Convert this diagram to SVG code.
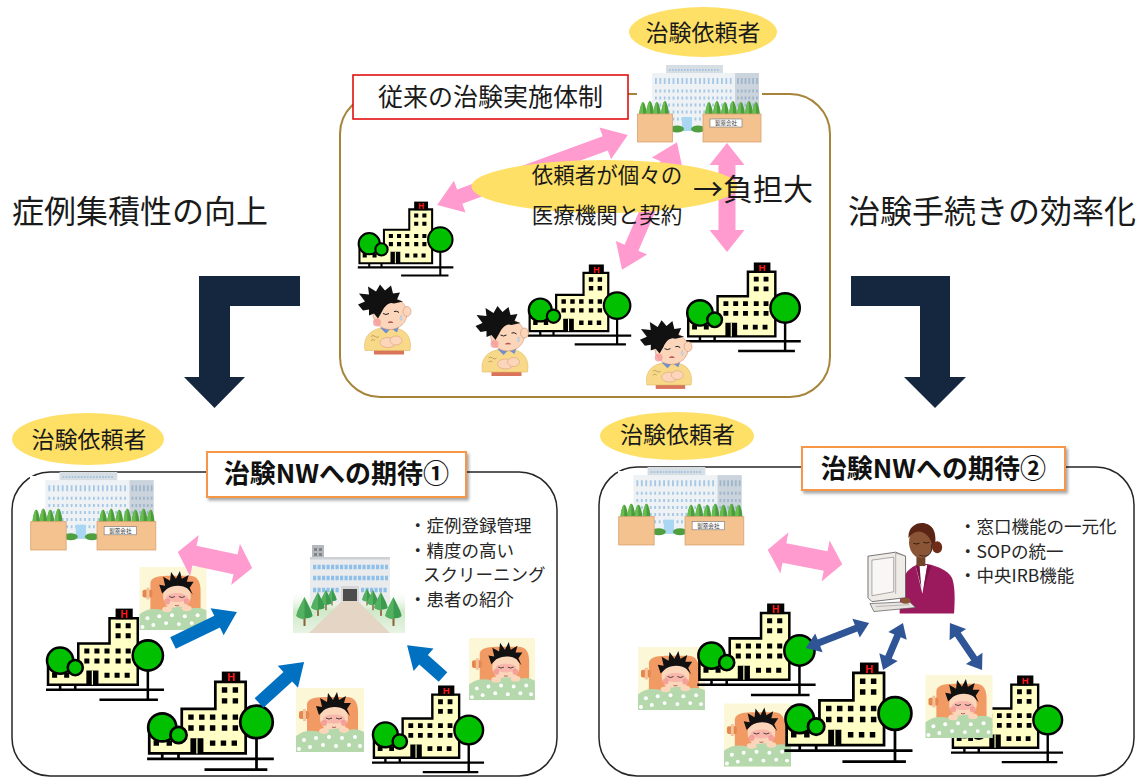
<svg xmlns="http://www.w3.org/2000/svg" xmlns:xlink="http://www.w3.org/1999/xlink" width="1137" height="778" viewBox="0 0 1137 778">
  <style>
    .jp { font-family: "Noto Sans CJK JP", "Noto Sans", sans-serif; fill: #1a1a1a; }
    .big { font-size: 32px; }
    .tag { font-size: 23px; }
    .note { font-size: 21.5px; }
    .bullet { font-size: 17.5px; fill: #262626; }
    .lbl { font-size: 26px; font-weight: 700; fill: #111; }
    .tagfill { fill: #ffe066; }
    .pink { fill: #ff9bcf; }
    .blue { fill: #0070c0; }
    .navy { fill: #2f5597; }
    .bend { fill: #14273f; }
    .panel { fill: none; stroke: #262626; stroke-width: 1.5; }
    .hmark { font-family: "Liberation Sans", sans-serif; font-weight: 700; font-size: 10px; fill: #ff1a1a; }
    .skin { fill: #fcd6bb; }
  </style>
  <defs>
    <filter id="shadow" x="-10%" y="-20%" width="125%" height="150%">
      <feDropShadow dx="2" dy="2.5" stdDeviation="1.6" flood-color="#000" flood-opacity="0.35"/>
    </filter>
    <linearGradient id="lawn" x1="0" y1="0" x2="0" y2="1">
      <stop offset="0" stop-color="#ffffff" stop-opacity="0"/>
      <stop offset="0.5" stop-color="#cfe9c8"/>
      <stop offset="1" stop-color="#e8f4e4"/>
    </linearGradient>

    <!-- small conifer used by the campus picture -->
    <symbol id="pine" viewBox="0 0 20 34">
      <rect x="8.8" y="23" width="2.4" height="11" fill="#8d6239"/>
      <path d="M10,0 C12,5 18,14 19.5,22 C19,26 1,26 0.5,22 C2,14 8,5 10,0 Z" fill="#3c9a4e"/>
      <path d="M10,0 C8,5 2,14 0.5,22 C3,25 7,26 10,26 Z" fill="#55b162"/>
    </symbol>

    <!-- rounded shrub on the planters -->
    <symbol id="bush" viewBox="0 0 9 15">
      <path d="M0,15 C0.5,7 3,0 4.5,0 C6,0 8.5,7 9,15 Z" fill="#4a9c3c"/>
      <path d="M4.5,0 C3,0 0.5,7 0,15 L4.5,15 Z" fill="#69bd4e"/>
    </symbol>

    <!-- hospital with trees -->
    <symbol id="hosp" viewBox="0 0 120 95">
      <path d="M1,81 H118 M54,91 H112 M15,62 V81 M30,64 V81 M102,60 V91" fill="none" stroke="#000" stroke-width="2.5"/>
      <path d="M3,76 V58 H33 V35 H64 V10 H92 V76 Z" fill="#ffffc6" stroke="#000" stroke-width="2.5"/>
      <rect x="70" y="0.5" width="17" height="10.5" fill="#000"/>
      <text x="78.5" y="9.6" class="hmark" text-anchor="middle">H</text>
      <path fill="#000" d="M70,15h5v5h-5z M80,15h5v5h-5z M70,25h5v5h-5z M80,25h5v5h-5z
        M39,40h5v5h-5z M49,40h5v5h-5z M59,40h5v5h-5z M70,40h5v5h-5z M80,40h5v5h-5z
        M39,50h5v5h-5z M49,50h5v5h-5z M59,50h5v5h-5z M70,50h5v5h-5z M80,50h5v5h-5z
        M7,64h5v5h-5z M19,64h5v5h-5z M59,64h5v5h-5z M69,64h5v5h-5z M79,64h5v5h-5z
        M41,62h12v14h-12z"/>
      <line x1="47" y1="62" x2="47" y2="76" stroke="#ffffc6" stroke-width="1.2"/>
      <g fill="#00c000" stroke="#000" stroke-width="2.5">
        <circle cx="15" cy="52" r="13"/>
        <circle cx="30" cy="59" r="7.5"/>
        <circle cx="102" cy="47" r="15"/>
      </g>
    </symbol>

    <!-- company head office -->
    <symbol id="corp" viewBox="0 0 125 78">
      <rect x="29" y="0" width="57" height="10" fill="#d6dde3"/>
      <line x1="32" y1="5" x2="83" y2="5" stroke="#a3c4e2" stroke-width="2" stroke-dasharray="1.6 1.4"/>
      <rect x="15" y="8" width="83" height="58" fill="#eef2f5"/>
      <rect x="98" y="8" width="24" height="58" fill="#cbd4dc"/>
      <g stroke="#a6c7e6" stroke-dasharray="1.8 2.6">
        <line x1="18" y1="16" x2="95" y2="16" stroke-width="6"/>
        <line x1="18" y1="26" x2="95" y2="26" stroke-width="3"/>
        <line x1="18" y1="33" x2="95" y2="33" stroke-width="3"/>
        <line x1="18" y1="40" x2="95" y2="40" stroke-width="3"/>
        <line x1="18" y1="47" x2="95" y2="47" stroke-width="3"/>
        <line x1="18" y1="54" x2="95" y2="54" stroke-width="3"/>
      </g>
      <g stroke="#9fb6cc" stroke-dasharray="1.8 2">
        <line x1="100" y1="16" x2="121" y2="16" stroke-width="6"/>
        <line x1="100" y1="26" x2="121" y2="26" stroke-width="3"/>
        <line x1="100" y1="33" x2="121" y2="33" stroke-width="3"/>
        <line x1="100" y1="40" x2="121" y2="40" stroke-width="3"/>
      </g>
      <rect x="45" y="52" width="10" height="14" fill="#a9d6f2"/>
      <ellipse cx="40" cy="64" rx="7" ry="3.5" fill="#4f9e3f"/>
      <ellipse cx="61" cy="64" rx="7" ry="3.5" fill="#4f9e3f"/>
      <use href="#bush" x="2" y="37" width="8" height="13"/>
      <use href="#bush" x="9" y="36" width="8" height="13"/>
      <use href="#bush" x="16" y="37" width="8" height="13"/>
      <use href="#bush" x="24" y="36" width="8" height="13"/>
      <use href="#bush" x="68" y="37" width="8" height="13"/>
      <use href="#bush" x="76" y="36" width="8" height="13"/>
      <use href="#bush" x="84" y="37" width="8" height="13"/>
      <use href="#bush" x="92" y="36" width="8" height="13"/>
      <use href="#bush" x="100" y="37" width="8" height="13"/>
      <use href="#bush" x="108" y="36" width="8" height="13"/>
      <use href="#bush" x="115" y="37" width="8" height="13"/>
      <rect x="0.5" y="49" width="35" height="28" fill="#f4c28f" stroke="#d9a36f" stroke-width="0.8"/>
      <rect x="66" y="49" width="58" height="28" fill="#f4c28f" stroke="#d9a36f" stroke-width="0.8"/>
      <rect x="73" y="54" width="32" height="8" fill="#fff" stroke="#777" stroke-width="0.6"/>
      <text x="89" y="60.3" font-size="5.5" text-anchor="middle" font-family="'Noto Sans CJK JP', sans-serif" fill="#333">製薬会社</text>
    </symbol>

    <!-- campus building with tree-lined approach -->
    <symbol id="univ" viewBox="0 0 112 90">
      <rect x="0" y="44" width="112" height="44" fill="url(#lawn)"/>
      <rect x="19" y="0" width="12" height="13" fill="#b5b9bd"/>
      <path d="M21,3h3v3h-3z M26,3h3v3h-3z M21,8h3v3h-3z M26,8h3v3h-3z" fill="#7f8489"/>
      <rect x="17" y="12" width="80" height="46" fill="#e9ebed"/>
      <rect x="17" y="12" width="80" height="2.5" fill="#cdd1d5"/>
      <g stroke="#8ec0ea" stroke-width="4.5" stroke-dasharray="3.2 1.3">
        <line x1="20" y1="22" x2="95" y2="22"/>
        <line x1="20" y1="33" x2="95" y2="33"/>
        <line x1="20" y1="45" x2="46" y2="45"/>
        <line x1="68" y1="45" x2="95" y2="45"/>
      </g>
      <rect x="48" y="41" width="18" height="15" fill="#d6d6d6"/>
      <rect x="50" y="44" width="14" height="12" fill="#4d4d4d"/>
      <polygon points="49,56 65,56 97,88 16,88" fill="#e4d5c4"/>
      <use href="#pine" x="34" y="42" width="10" height="20"/>
      <use href="#pine" x="27" y="43" width="12" height="24"/>
      <use href="#pine" x="18" y="45" width="14" height="28"/>
      <use href="#pine" x="3" y="50" width="17" height="33"/>
      <use href="#pine" x="69" y="42" width="10" height="20"/>
      <use href="#pine" x="74" y="43" width="12" height="24"/>
      <use href="#pine" x="81" y="45" width="14" height="28"/>
      <use href="#pine" x="92" y="50" width="17" height="33"/>
    </symbol>

    <!-- patient lying on an ice pillow -->
    <symbol id="bed" viewBox="0 0 68 64">
      <rect width="68" height="64" fill="#fcf7d6"/>
      <path d="M11,16 Q12,9 28,9 L52,9 Q62,10 62,24 L62,46 L11,46 Z" fill="#f29a63"/>
      <rect x="3" y="23" width="10" height="8" rx="2" fill="#e3894f"/>
      <rect x="7" y="21" width="3" height="12" fill="#f6c29a"/>
      <ellipse cx="38" cy="30" rx="14" ry="14" class="skin"/>
      <ellipse cx="38" cy="31" rx="11" ry="4.5" fill="#f6a0a0" opacity="0.6"/>
      <path d="M23,27 L20,18 L26,19 L24,10 L31,14 L32,5 L37,12 L41,4 L43,12 L50,8 L48,15 L55,15 L51,21 L54,28 L49,22 C44,18 34,18 28,22 Z" fill="#111"/>
      <path d="M30,30 q3,2 6,0 M40,30 q3,2 6,0" stroke="#333" fill="none" stroke-width="0.9"/>
      <circle cx="28" cy="35" r="3" fill="#f08a8a" opacity="0.7"/>
      <circle cx="48" cy="35" r="3" fill="#f08a8a" opacity="0.7"/>
      <path d="M36,39 q2,1 4,0" stroke="#a04040" fill="none" stroke-width="0.8"/>
      <path d="M0,48 Q10,40 24,44 Q38,38 52,42 Q62,40 68,44 V64 H0 Z" fill="#b5d9ad"/>
      <ellipse cx="28" cy="43" rx="5" ry="3" class="skin"/>
      <ellipse cx="48" cy="42" rx="5" ry="3" class="skin"/>
      <g fill="#fff">
        <circle cx="8" cy="52" r="2"/><circle cx="20" cy="50" r="2"/><circle cx="33" cy="49" r="2"/>
        <circle cx="46" cy="50" r="2"/><circle cx="59" cy="49" r="2"/><circle cx="14" cy="59" r="2"/>
        <circle cx="27" cy="57" r="2"/><circle cx="40" cy="58" r="2"/><circle cx="53" cy="57" r="2"/>
        <circle cx="64" cy="58" r="2"/><circle cx="3" cy="61" r="2"/>
      </g>
    </symbol>

    <!-- standing patient holding his stomach -->
    <symbol id="man" viewBox="0 0 56 72">
      <rect x="17" y="64" width="30" height="6" fill="#d9735a"/>
      <path d="M8,66 C6,56 10,47 22,44 L40,44 C50,46 55,54 53,66 Z" fill="#f8d98a" stroke="#e0b860" stroke-width="0.6"/>
      <path d="M23,43 L29,49 L34,44 L40,48 L42,42 Z" fill="#6f8fd0"/>
      <ellipse cx="31" cy="58" rx="8" ry="5" class="skin" stroke="#d9a07a" stroke-width="0.6"/>
      <ellipse cx="39" cy="56" rx="6" ry="4.5" class="skin" stroke="#d9a07a" stroke-width="0.6"/>
      <path d="M14,52 q2,-2 4,0 q2,2 4,0 M14,56 q2,-2 4,0" fill="none" stroke="#9a8040" stroke-width="0.6"/>
      <ellipse cx="33" cy="29" rx="17" ry="16" class="skin" stroke="#d09070" stroke-width="0.6"/>
      <ellipse cx="50" cy="27" rx="4" ry="5" class="skin" stroke="#d09070" stroke-width="0.6"/>
      <path d="M6,26 L1,20 L8,17 L2,9 L12,10 L11,2 L19,7 L23,0 L28,6 L34,1 L36,9 L43,8 L40,15 L46,17 L37,19 C32,17 28,21 25,27 L21,34 L17,29 L12,31 L12,25 Z" fill="#111"/>
      <circle cx="20" cy="38" r="4" fill="#f59a9a" opacity="0.8"/>
      <path d="M26,29 q3,2 6,0 M37,27 q3,-1 5,1" stroke="#222" fill="none" stroke-width="1"/>
      <path d="M44,31 q2,3 0,5 q-2,-2 0,-5 Z" fill="#d8ecff" stroke="#7aa0c0" stroke-width="0.4"/>
      <path d="M31,38 q2.5,-2 5,0 z" fill="#e06060" stroke="#a04040" stroke-width="0.6"/>
    </symbol>

    <!-- coordinator at a computer -->
    <symbol id="oper" viewBox="0 0 92 96">
      <path d="M34,92 C34,74 36,60 40,52 C44,46 50,43 54,42 L62,42 C72,44 82,48 87,56 C90,64 90,78 89,92 Z" fill="#9b1a5e"/>
      <path d="M50,43 L62,43 L57,72 Z" fill="#fff"/>
      <path d="M50,43 L54,42 L56,66 Z M62,43 L66,44 L58,68 Z" fill="#7c1049"/>
      <rect x="51" y="32" width="9" height="12" fill="#74442a"/>
      <ellipse cx="56" cy="20" rx="12.5" ry="16" fill="#8a5536"/>
      <path d="M43,16 C42,4 52,-1 60,1 C68,3 71,10 70,20 L68,28 C67,18 62,10 54,9 C49,9 45,12 43,16 Z" fill="#5b2516"/>
      <ellipse cx="72" cy="25" rx="5" ry="6" fill="#6e2c19"/>
      <path d="M48,21 q3,1.5 6,0 M58,20 q3,1.5 6,0" stroke="#2a1208" stroke-width="0.9" fill="none"/>
      <path d="M66,22 C68,32 62,36 54,33" stroke="#222" stroke-width="0.8" fill="none"/>
      <path d="M2,34 L30,30 L40,34 L40,76 L6,80 L2,76 Z" fill="#efebe7" stroke="#555" stroke-width="0.8"/>
      <path d="M6,38 L28,35 L28,70 L6,74 Z" fill="#f9f7f5" stroke="#777" stroke-width="0.6"/>
      <path d="M30,31 L40,34 M30,31 L30,72" stroke="#888" stroke-width="0.6" fill="none"/>
      <path d="M4,82 L44,80 L50,86 L8,90 Z" fill="#e8e4e0" stroke="#555" stroke-width="0.7"/>
      <path d="M10,85 L44,83" stroke="#888" stroke-width="0.5"/>
      <ellipse cx="40" cy="79" rx="5" ry="3" fill="#8a5536"/>
    </symbol>

    <!-- shared double-headed arrow for the sponsor links in the lower panels -->
    <path id="pinkDbl" d="M-38,0 L-21,-21 L-21,-10 L21,-10 L21,-21 L38,0 L21,21 L21,10 L-21,10 L-21,21 Z"/>
  </defs>

  <rect width="1137" height="778" fill="#fff"/>

  <!-- panel frames -->
  <g id="frames">
    <rect x="340" y="94" width="490" height="303" rx="40" fill="none" stroke="#a6843a" stroke-width="2"/>
    <rect class="panel" x="12" y="472" width="545" height="304" rx="38"/>
    <rect class="panel" x="599" y="467" width="535" height="309" rx="38"/>
  </g>

  <!-- headings -->
  <g id="heading-left">
    <text class="jp big" x="12" y="223">症例集積性の向上</text>
  </g>
  <g id="heading-right">
    <text class="jp big" x="848" y="223">治験手続きの効率化</text>
  </g>

  <!-- upper panel: conventional set-up -->
  <g id="label-conventional">
    <rect x="353" y="75" width="275" height="44" fill="#fff" stroke="#e00000" stroke-width="1.5"/>
    <text class="jp" x="490.5" y="106" font-size="25" text-anchor="middle">従来の治験実施体制</text>
  </g>
  <g id="sponsor-top">
    <ellipse class="tagfill" cx="703" cy="32" rx="74" ry="25"/>
    <text class="jp tag" x="703" y="41" text-anchor="middle" font-size="22.5">治験依頼者</text>
    <rect x="637" y="86" width="125" height="14" fill="#fff"/>
    <use href="#corp" x="637" y="65" width="125" height="78"/>
  </g>
  <g id="site-top-1"><use href="#hosp" x="357" y="201" width="98" height="78"/></g>
  <g id="site-top-2"><use href="#hosp" x="527" y="264" width="106" height="84"/></g>
  <g id="site-top-3"><use href="#hosp" x="685" y="262" width="118" height="93"/></g>
  <g id="patient-top-1"><use href="#man" x="357" y="284" width="56" height="73"/></g>
  <g id="patient-top-2"><use href="#man" x="474" y="306" width="57" height="72"/></g>
  <g id="patient-top-3"><use href="#man" x="639" y="319" width="55" height="73"/></g>

  <!-- lower left panel: network hub -->
  <g id="sponsor-left">
    <ellipse class="tagfill" cx="88" cy="439" rx="76" ry="26"/>
    <text class="jp tag" x="89" y="448" text-anchor="middle">治験依頼者</text>
    <rect x="30" y="476" width="127" height="75" fill="#fff"/>
    <use href="#corp" x="30" y="472" width="127" height="79"/>
  </g>
  <g id="label-nw1">
    <rect x="207" y="452" width="259" height="45" fill="#fff" stroke="#f79646" stroke-width="2" filter="url(#shadow)"/>
    <text class="jp lbl" x="336.5" y="483" text-anchor="middle">治験NWへの期待①</text>
  </g>
  <g id="hub-left">
    <use href="#univ" x="293" y="545" width="112" height="90"/>
    <text class="jp bullet" x="409" y="532">・症例登録管理</text>
    <text class="jp bullet" x="409" y="556.5">・精度の高い</text>
    <text class="jp bullet" x="423" y="581">スクリーニング</text>
    <text class="jp bullet" x="409" y="605.5">・患者の紹介</text>
  </g>
  <g id="patient-left-1"><use href="#bed" x="139" y="567" width="68" height="63"/></g>
  <g id="site-left-1"><use href="#hosp" x="45" y="608" width="121" height="96"/></g>
  <g id="site-left-2"><use href="#hosp" x="146" y="671" width="130" height="103"/></g>
  <g id="patient-left-2"><use href="#bed" x="296" y="688" width="68" height="64"/></g>
  <g id="site-left-3"><use href="#hosp" x="371" y="685" width="115" height="91"/></g>
  <g id="patient-left-3"><use href="#bed" x="468" y="638" width="68" height="62"/></g>

  <!-- lower right panel: central coordination -->
  <g id="sponsor-right">
    <ellipse class="tagfill" cx="677" cy="436" rx="77" ry="24"/>
    <text class="jp tag" x="677.5" y="443" text-anchor="middle">治験依頼者</text>
    <rect x="618" y="471" width="127" height="75" fill="#fff"/>
    <use href="#corp" x="618" y="467" width="127" height="79"/>
  </g>
  <g id="label-nw2">
    <rect x="802" y="447" width="263" height="43" fill="#fff" stroke="#f79646" stroke-width="2" filter="url(#shadow)"/>
    <text class="jp lbl" x="933.5" y="478" text-anchor="middle">治験NWへの期待②</text>
  </g>
  <g id="hub-right">
    <use href="#oper" x="866" y="522" width="91" height="96"/>
    <text class="jp bullet" x="959" y="533">・窓口機能の一元化</text>
    <text class="jp bullet" x="959" y="557.5">・SOPの統一</text>
    <text class="jp bullet" x="959" y="582">・中央IRB機能</text>
  </g>
  <g id="patient-right-1"><use href="#bed" x="638" y="647" width="67" height="63"/></g>
  <g id="site-right-1"><use href="#hosp" x="696" y="603" width="122" height="96"/></g>
  <g id="patient-right-2"><use href="#bed" x="724" y="703" width="67" height="64"/></g>
  <g id="site-right-2"><use href="#hosp" x="783" y="662" width="132" height="104"/></g>
  <g id="site-right-3"><use href="#hosp" x="950" y="675" width="115" height="91"/></g>
  <g id="patient-right-3"><use href="#bed" x="925" y="675" width="68" height="63"/></g>

  <!-- connectors -->
  <g id="connectors">
    <path class="bend" d="M300,276 H199 V377 H184 L214.5,408 L245,377 H230 V306 H300 Z"/>
    <path class="bend" d="M851,276 H950 V377 H966 L935,408 L904,377 H920 V306 H851 Z"/>

    <path class="pink" transform="translate(532.5,170) rotate(-20.1)" d="M-101.5,0 L-77.5,-17 L-77.5,-7.5 L77.5,-7.5 L77.5,-17 L101.5,0 L77.5,17 L77.5,7.5 L-77.5,7.5 L-77.5,17 Z"/>
    <path class="pink" transform="translate(649.5,206) rotate(113.3)" d="M-69.5,0 L-45.5,-17 L-45.5,-7.5 L45.5,-7.5 L45.5,-17 L69.5,0 L45.5,17 L45.5,7.5 L-45.5,7.5 L-45.5,17 Z"/>
    <path class="pink" transform="translate(727,197.5) rotate(90)" d="M-54.5,0 L-32.5,-17.5 L-32.5,-8.5 L32.5,-8.5 L32.5,-17.5 L54.5,0 L32.5,17.5 L32.5,8.5 L-32.5,8.5 L-32.5,17.5 Z"/>

    <use href="#pinkDbl" class="pink" transform="translate(215,560) rotate(12)"/>
    <use href="#pinkDbl" class="pink" transform="translate(805,557) rotate(11)"/>

    <path class="blue" transform="translate(173,643) rotate(-25.8)" d="M0,-6.5 L49,-6.5 L49,-15 L71,0 L49,15 L49,6.5 L0,6.5 Z"/>
    <path class="blue" transform="translate(259,703) rotate(-42.3)" d="M0,-6.5 L39,-6.5 L39,-15 L61,0 L39,15 L39,6.5 L0,6.5 Z"/>
    <path class="blue" transform="translate(443,677) rotate(-138.4)" d="M0,-6.5 L26,-6.5 L26,-15 L48,0 L26,15 L26,6.5 L0,6.5 Z"/>

    <path class="navy" transform="translate(837.5,635.5) rotate(-21.6)" d="M-34,0 L-20,-10 L-20,-3.5 L20,-3.5 L20,-10 L34,0 L20,10 L20,3.5 L-20,3.5 L-20,10 Z"/>
    <path class="navy" transform="translate(893,646.5) rotate(-67)" d="M-25.5,0 L-11.5,-10 L-11.5,-3.5 L11.5,-3.5 L11.5,-10 L25.5,0 L11.5,10 L11.5,3.5 L-11.5,3.5 L-11.5,10 Z"/>
    <path class="navy" transform="translate(966,646.5) rotate(55.7)" d="M-28.5,0 L-14.5,-10 L-14.5,-3.5 L14.5,-3.5 L14.5,-10 L28.5,0 L14.5,10 L14.5,3.5 L-14.5,3.5 L-14.5,10 Z"/>
  </g>

  <!-- note over the contract arrows -->
  <g id="contract-note">
    <ellipse class="tagfill" cx="604.5" cy="186.5" rx="133" ry="26.5"/>
    <text class="jp note" x="607" y="182.5" text-anchor="middle">依頼者が個々の</text>
    <text class="jp note" x="607" y="222.5" text-anchor="middle">医療機関と契約</text>
    <text class="jp" x="693" y="199.5" font-size="30">→負担大</text>
  </g>
</svg>
